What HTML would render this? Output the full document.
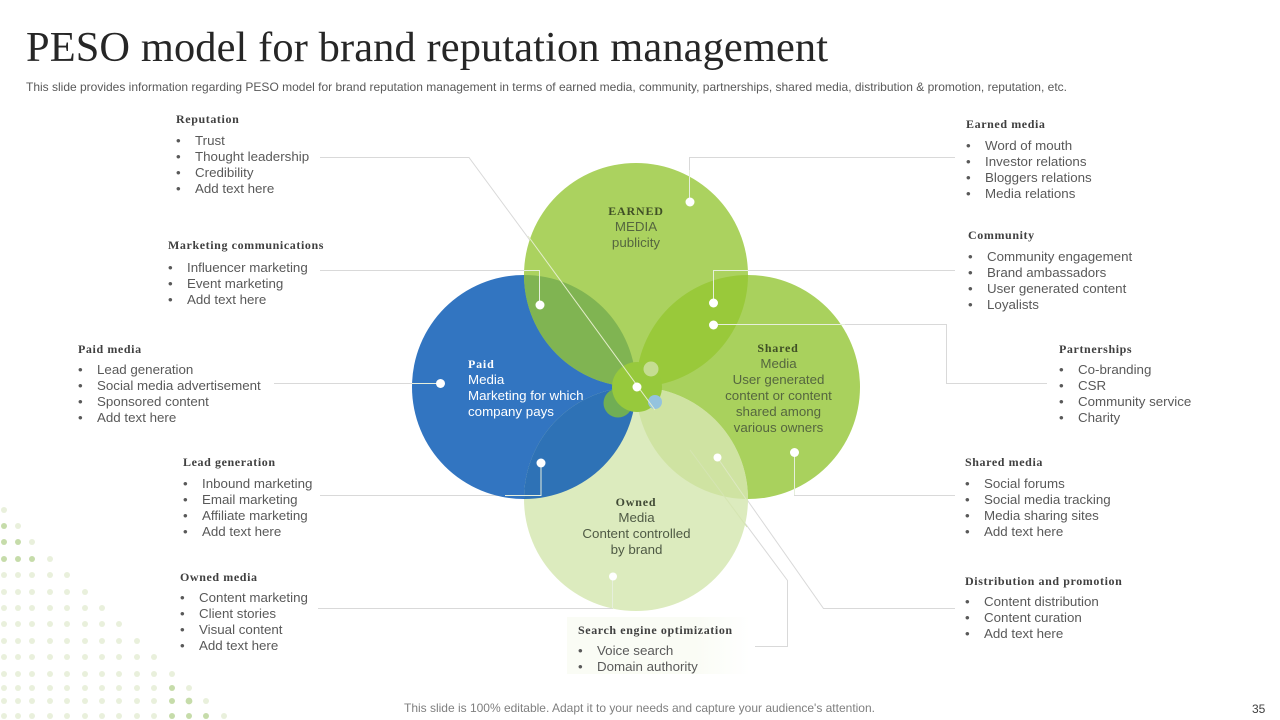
<!DOCTYPE html>
<html lang="en"><head><meta charset="utf-8"><title>PESO model</title>
<style>
html,body{margin:0;padding:0;background:#fff;width:1280px;height:720px;overflow:hidden}
svg{display:block;position:absolute;left:0;top:0}
.t{font-family:"Liberation Serif",serif;font-size:42.4px;fill:#262626}
.s{font-family:"Liberation Sans",sans-serif;font-size:12px;fill:#595959}
.h{font-family:"Liberation Serif",serif;font-size:12px;font-weight:bold;fill:#404040;letter-spacing:.6px}
.i{font-family:"Liberation Sans",sans-serif;font-size:13.33px;fill:#595959}
.l{fill:none;stroke:#d9d9d9;stroke-width:1}
.c{font-family:"Liberation Sans",sans-serif;font-size:13.33px;text-anchor:middle;fill:#55663f}
.o{fill:#4f5a45}
.cb{font-family:"Liberation Serif",serif;font-weight:bold;font-size:12px;letter-spacing:.8px}
.w{fill:#fff}
</style></head><body>
<svg width="1280" height="720" viewBox="0 0 1280 720" xmlns="http://www.w3.org/2000/svg">
<defs>
<clipPath id="ce"><circle cx="636" cy="275" r="112"/></clipPath>
<clipPath id="co"><circle cx="636" cy="499" r="112"/></clipPath>
<linearGradient id="gb" x1="0" x2="1" y1="0" y2="0"><stop offset="0" stop-color="#fafcf5"/><stop offset=".7" stop-color="#fafcf5"/><stop offset="1" stop-color="#fff"/></linearGradient>
</defs>

<g fill="#e9f0dc">
<circle cx="4" cy="510" r="3"/>
<circle cx="18" cy="526" r="3"/>
<circle cx="32" cy="542" r="3"/>
<circle cx="50" cy="559" r="3"/>
<circle cx="4" cy="575" r="3"/><circle cx="18" cy="575" r="3"/><circle cx="32" cy="575" r="3"/><circle cx="50" cy="575" r="3"/><circle cx="67" cy="575" r="3"/>
<circle cx="4" cy="592" r="3"/><circle cx="18" cy="592" r="3"/><circle cx="32" cy="592" r="3"/><circle cx="50" cy="592" r="3"/><circle cx="67" cy="592" r="3"/><circle cx="85" cy="592" r="3"/>
<circle cx="4" cy="608" r="3"/><circle cx="18" cy="608" r="3"/><circle cx="32" cy="608" r="3"/><circle cx="50" cy="608" r="3"/><circle cx="67" cy="608" r="3"/><circle cx="85" cy="608" r="3"/><circle cx="102" cy="608" r="3"/>
<circle cx="4" cy="624" r="3"/><circle cx="18" cy="624" r="3"/><circle cx="32" cy="624" r="3"/><circle cx="50" cy="624" r="3"/><circle cx="67" cy="624" r="3"/><circle cx="85" cy="624" r="3"/><circle cx="102" cy="624" r="3"/><circle cx="119" cy="624" r="3"/>
<circle cx="4" cy="641" r="3"/><circle cx="18" cy="641" r="3"/><circle cx="32" cy="641" r="3"/><circle cx="50" cy="641" r="3"/><circle cx="67" cy="641" r="3"/><circle cx="85" cy="641" r="3"/><circle cx="102" cy="641" r="3"/><circle cx="119" cy="641" r="3"/><circle cx="137" cy="641" r="3"/>
<circle cx="4" cy="657" r="3"/><circle cx="18" cy="657" r="3"/><circle cx="32" cy="657" r="3"/><circle cx="50" cy="657" r="3"/><circle cx="67" cy="657" r="3"/><circle cx="85" cy="657" r="3"/><circle cx="102" cy="657" r="3"/><circle cx="119" cy="657" r="3"/><circle cx="137" cy="657" r="3"/><circle cx="154" cy="657" r="3"/>
<circle cx="4" cy="674" r="3"/><circle cx="18" cy="674" r="3"/><circle cx="32" cy="674" r="3"/><circle cx="50" cy="674" r="3"/><circle cx="67" cy="674" r="3"/><circle cx="85" cy="674" r="3"/><circle cx="102" cy="674" r="3"/><circle cx="119" cy="674" r="3"/><circle cx="137" cy="674" r="3"/><circle cx="154" cy="674" r="3"/><circle cx="172" cy="674" r="3"/>
<circle cx="4" cy="688" r="3"/><circle cx="18" cy="688" r="3"/><circle cx="32" cy="688" r="3"/><circle cx="50" cy="688" r="3"/><circle cx="67" cy="688" r="3"/><circle cx="85" cy="688" r="3"/><circle cx="102" cy="688" r="3"/><circle cx="119" cy="688" r="3"/><circle cx="137" cy="688" r="3"/><circle cx="154" cy="688" r="3"/><circle cx="189" cy="688" r="3"/>
<circle cx="4" cy="701" r="3"/><circle cx="18" cy="701" r="3"/><circle cx="32" cy="701" r="3"/><circle cx="50" cy="701" r="3"/><circle cx="67" cy="701" r="3"/><circle cx="85" cy="701" r="3"/><circle cx="102" cy="701" r="3"/><circle cx="119" cy="701" r="3"/><circle cx="137" cy="701" r="3"/><circle cx="154" cy="701" r="3"/><circle cx="206" cy="701" r="3"/>
<circle cx="4" cy="716" r="3"/><circle cx="18" cy="716" r="3"/><circle cx="32" cy="716" r="3"/><circle cx="50" cy="716" r="3"/><circle cx="67" cy="716" r="3"/><circle cx="85" cy="716" r="3"/><circle cx="102" cy="716" r="3"/><circle cx="119" cy="716" r="3"/><circle cx="137" cy="716" r="3"/><circle cx="154" cy="716" r="3"/><circle cx="224" cy="716" r="3"/>
</g>
<g fill="#c6dcaa">
<circle cx="4" cy="526" r="3"/>
<circle cx="4" cy="542" r="3"/><circle cx="18" cy="542" r="3"/>
<circle cx="4" cy="559" r="3"/><circle cx="18" cy="559" r="3"/><circle cx="32" cy="559" r="3"/>
<circle cx="172" cy="688" r="3"/><circle cx="172" cy="701" r="3"/><circle cx="189" cy="701" r="3.4"/>
<circle cx="172" cy="716" r="3"/><circle cx="189" cy="716" r="3"/><circle cx="206" cy="716" r="3"/>
</g>

<text class="t" x="26" y="61" textLength="802">PESO model for brand reputation management</text>
<text class="s" x="26" y="91" textLength="1041">This slide provides information regarding PESO model for brand reputation management in terms of earned media, community, partnerships, shared media, distribution &amp; promotion, reputation, etc.</text>

<rect x="567" y="617" width="183" height="57" fill="url(#gb)"/>

<path class="l" d="M320 157.500H469L655 410"/>
<path class="l" d="M955 157.500H689.500V202"/>
<path class="l" d="M320 270.500H539.500V305"/>
<path class="l" d="M955 270.500H713.500V303"/>
<path class="l" d="M713 324.500H946.500V383.500H1047"/>
<path class="l" d="M274 383.500H440"/>
<path class="l" d="M320 495.500H541V463"/>
<path class="l" d="M794.500 452V495.500H955"/>
<path class="l" d="M318 608.500H612.500V576"/>
<path class="l" d="M955 608.500H823.500L717 457"/>
<path class="l" d="M755 646.500H787.500V580.500L655 402"/>

<circle cx="524" cy="387" r="112" fill="#3275c1"/>
<circle cx="748" cy="387" r="112" fill="#a9d15d"/>
<circle cx="636" cy="275" r="112" fill="#abd25f"/>
<circle cx="636" cy="499" r="112" fill="#dcebbe"/>
<g clip-path="url(#ce)">
<circle cx="524" cy="387" r="112" fill="#80b452"/>
<circle cx="748" cy="387" r="112" fill="#99c93a"/>
</g>
<g clip-path="url(#co)">
<circle cx="524" cy="387" r="112" fill="#2e72b6"/>
<circle cx="748" cy="387" r="112" fill="#cfe3a2"/>
</g>

<circle cx="618" cy="403" r="14.500" fill="#70ae54"/>
<circle cx="637" cy="387" r="25" fill="#97c93c"/>
<circle cx="651" cy="369" r="7.500" fill="#c5dd92"/>
<circle cx="655" cy="402" r="7" fill="#94c3de"/>

<path d="M528 236L655 410" fill="none" stroke="#e4eecb" stroke-width="1"/>
<path d="M748 502L717 457" fill="none" stroke="#dde8c2" stroke-width="1"/>
<path d="M747 527L690 450" fill="none" stroke="#d5e5b2" stroke-width="1"/>

<path d="M689.500 170V202M524 270.500H539.500V305M748 270.500H713.500V303M713 324.500H845M541 463V495.500H505M794.500 452V495M612.500 576V608M440 383.500H412" fill="none" stroke="#e6efdc" stroke-width="1"/>

<g class="w">
<circle cx="690" cy="202" r="4.500"/>
<circle cx="540" cy="305" r="4.500"/>
<circle cx="713.500" cy="303" r="4.500"/>
<circle cx="713.500" cy="325" r="4.500"/>
<circle cx="440.500" cy="383.500" r="4.500"/>
<circle cx="637" cy="387" r="4.500"/>
<circle cx="541" cy="463" r="4.500"/>
<circle cx="794.500" cy="452.500" r="4.500"/>
<circle cx="717.500" cy="457.500" r="4"/>
<circle cx="613" cy="576.500" r="4"/>
</g>

<text class="c cb" x="636" y="215" style="fill:#3f4f25">EARNED</text>
<text class="c" x="636" y="231">MEDIA</text>
<text class="c" x="636" y="247">publicity</text>
<text class="cb w" x="468" y="368">Paid</text>
<text class="i w" x="468" y="384" style="fill:#fff">Media</text>
<text class="i w" x="468" y="400" style="fill:#fff">Marketing for which</text>
<text class="i w" x="468" y="416" style="fill:#fff">company pays</text>
<text class="c cb" x="778" y="352" style="fill:#3f4f25">Shared</text>
<text class="c" x="778.500" y="368">Media</text>
<text class="c" x="778.500" y="384">User generated</text>
<text class="c" x="778.500" y="400">content or content</text>
<text class="c" x="778.500" y="416">shared among</text>
<text class="c" x="778.500" y="432">various owners</text>
<text class="c cb" x="636" y="506" style="fill:#404a35">Owned</text>
<text class="c o" x="636.500" y="522">Media</text>
<text class="c o" x="636.500" y="538">Content controlled</text>
<text class="c o" x="636.500" y="554">by brand</text>

<text class="h" x="176" y="123">Reputation</text>
<text class="i" x="176" y="145">•</text><text class="i" x="195" y="145">Trust</text>
<text class="i" x="176" y="161">•</text><text class="i" x="195" y="161">Thought leadership</text>
<text class="i" x="176" y="177">•</text><text class="i" x="195" y="177">Credibility</text>
<text class="i" x="176" y="193">•</text><text class="i" x="195" y="193">Add text here</text>

<text class="h" x="168" y="249">Marketing communications</text>
<text class="i" x="168" y="272">•</text><text class="i" x="187" y="272">Influencer marketing</text>
<text class="i" x="168" y="288">•</text><text class="i" x="187" y="288">Event marketing</text>
<text class="i" x="168" y="304">•</text><text class="i" x="187" y="304">Add text here</text>

<text class="h" x="78" y="353">Paid media</text>
<text class="i" x="78" y="374">•</text><text class="i" x="97" y="374">Lead generation</text>
<text class="i" x="78" y="390">•</text><text class="i" x="97" y="390">Social media advertisement</text>
<text class="i" x="78" y="406">•</text><text class="i" x="97" y="406">Sponsored content</text>
<text class="i" x="78" y="422">•</text><text class="i" x="97" y="422">Add text here</text>

<text class="h" x="183" y="466">Lead generation</text>
<text class="i" x="183" y="488">•</text><text class="i" x="202" y="488">Inbound marketing</text>
<text class="i" x="183" y="504">•</text><text class="i" x="202" y="504">Email marketing</text>
<text class="i" x="183" y="520">•</text><text class="i" x="202" y="520">Affiliate marketing</text>
<text class="i" x="183" y="536">•</text><text class="i" x="202" y="536">Add text here</text>

<text class="h" x="180" y="581">Owned media</text>
<text class="i" x="180" y="602">•</text><text class="i" x="199" y="602">Content marketing</text>
<text class="i" x="180" y="618">•</text><text class="i" x="199" y="618">Client stories</text>
<text class="i" x="180" y="634">•</text><text class="i" x="199" y="634">Visual content</text>
<text class="i" x="180" y="650">•</text><text class="i" x="199" y="650">Add text here</text>

<text class="h" x="966" y="128">Earned media</text>
<text class="i" x="966" y="150">•</text><text class="i" x="985" y="150">Word of mouth</text>
<text class="i" x="966" y="166">•</text><text class="i" x="985" y="166">Investor relations</text>
<text class="i" x="966" y="182">•</text><text class="i" x="985" y="182">Bloggers relations</text>
<text class="i" x="966" y="198">•</text><text class="i" x="985" y="198">Media relations</text>

<text class="h" x="968" y="239">Community</text>
<text class="i" x="968" y="261">•</text><text class="i" x="987" y="261">Community engagement</text>
<text class="i" x="968" y="277">•</text><text class="i" x="987" y="277">Brand ambassadors</text>
<text class="i" x="968" y="293">•</text><text class="i" x="987" y="293">User generated content</text>
<text class="i" x="968" y="309">•</text><text class="i" x="987" y="309">Loyalists</text>

<text class="h" x="1059" y="353">Partnerships</text>
<text class="i" x="1059" y="374">•</text><text class="i" x="1078" y="374">Co-branding</text>
<text class="i" x="1059" y="390">•</text><text class="i" x="1078" y="390">CSR</text>
<text class="i" x="1059" y="406">•</text><text class="i" x="1078" y="406">Community service</text>
<text class="i" x="1059" y="422">•</text><text class="i" x="1078" y="422">Charity</text>

<text class="h" x="965" y="466">Shared media</text>
<text class="i" x="965" y="488">•</text><text class="i" x="984" y="488">Social forums</text>
<text class="i" x="965" y="504">•</text><text class="i" x="984" y="504">Social media tracking</text>
<text class="i" x="965" y="520">•</text><text class="i" x="984" y="520">Media sharing sites</text>
<text class="i" x="965" y="536">•</text><text class="i" x="984" y="536">Add text here</text>

<text class="h" x="965" y="585">Distribution and promotion</text>
<text class="i" x="965" y="606">•</text><text class="i" x="984" y="606">Content distribution</text>
<text class="i" x="965" y="622">•</text><text class="i" x="984" y="622">Content curation</text>
<text class="i" x="965" y="638">•</text><text class="i" x="984" y="638">Add text here</text>

<text class="h" x="578" y="634">Search engine optimization</text>
<text class="i" x="578" y="655">•</text><text class="i" x="597" y="655">Voice search</text>
<text class="i" x="578" y="671">•</text><text class="i" x="597" y="671">Domain authority</text>

<text class="s" x="404" y="712" style="fill:#7f7f7f" textLength="471">This slide is 100% editable. Adapt it to your needs and capture your audience's attention.</text>
<text class="s" x="1252" y="713" style="fill:#404040">35</text>
</svg>
</body></html>
